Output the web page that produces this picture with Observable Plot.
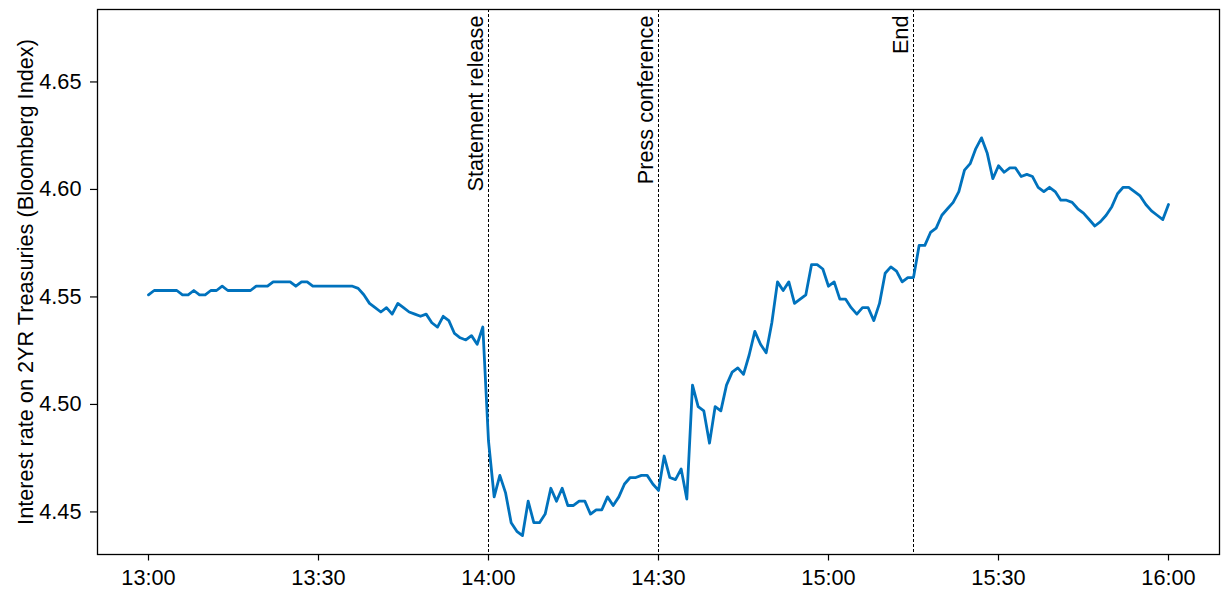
<!DOCTYPE html>
<html>
<head>
<meta charset="utf-8">
<script src="https://cdn.jsdelivr.net/npm/d3@7"></script>
<script src="https://cdn.jsdelivr.net/npm/@observablehq/plot@0.6"></script>
<style>
  body { margin: 0; background: #fff; }
</style>
</head>
<body>
<div id="chart"></div>
<script>
// Minute-by-minute 2-year Treasury yield, starting at 13:00
const startTime = "13:00";
const rates = [
  4.551, 4.553, 4.553, 4.553, 4.553, 4.553, 4.551, 4.551, 4.553, 4.551,
  4.551, 4.553, 4.553, 4.555, 4.553, 4.553, 4.553, 4.553, 4.553, 4.555,
  4.555, 4.555, 4.557, 4.557, 4.557, 4.557, 4.555, 4.557, 4.557, 4.555,
  4.555, 4.555, 4.555, 4.555, 4.555, 4.555, 4.555, 4.554, 4.551, 4.547,
  4.545, 4.543, 4.545, 4.542, 4.547, 4.545, 4.543, 4.542, 4.541, 4.542,
  4.538, 4.536, 4.541, 4.539, 4.533, 4.531, 4.530, 4.532, 4.528, 4.536,
  4.483, 4.457, 4.467, 4.459, 4.445, 4.441, 4.439, 4.455, 4.445, 4.445,
  4.449, 4.461, 4.455, 4.461, 4.453, 4.453, 4.455, 4.455, 4.449, 4.451,
  4.451, 4.457, 4.453, 4.457, 4.463, 4.466, 4.466, 4.467, 4.467, 4.463,
  4.460, 4.476, 4.466, 4.465, 4.470, 4.456, 4.509, 4.499, 4.497, 4.482,
  4.499, 4.497, 4.509, 4.515, 4.517, 4.514, 4.523, 4.534, 4.528, 4.524,
  4.538, 4.557, 4.553, 4.557, 4.547, 4.549, 4.551, 4.565, 4.565, 4.563,
  4.555, 4.557, 4.549, 4.549, 4.545, 4.542, 4.545, 4.545, 4.539, 4.547,
  4.561, 4.564, 4.562, 4.557, 4.559, 4.559, 4.574, 4.574, 4.580, 4.582,
  4.588, 4.591, 4.594, 4.599, 4.609, 4.612, 4.619, 4.624, 4.617, 4.605,
  4.611, 4.608, 4.610, 4.610, 4.606, 4.607, 4.606, 4.601, 4.599, 4.601,
  4.599, 4.595, 4.595, 4.594, 4.591, 4.589, 4.586, 4.583, 4.585, 4.588,
  4.592, 4.598, 4.601, 4.601, 4.599, 4.597, 4.593, 4.590, 4.588, 4.586,
  4.593
];

// Announcement milestones
const eventTimes = ["14:00", "14:30", "15:15"];
const eventLabels = ["Statement release", "Press conference", "End"];

// Axis ticks
const xTickLabels = ["13:00", "13:30", "14:00", "14:30", "15:00", "15:30", "16:00"];
const yTicks = [4.45, 4.50, 4.55, 4.60, 4.65];
const yLabel = "Interest rate on 2YR Treasuries (Bloomberg Index)";

const parseTime = d3.utcParse("%H:%M");
const t0 = parseTime(startTime);
const series = rates.map((v, i) => ({time: d3.utcMinute.offset(t0, i), rate: v}));
const events = eventTimes.map((t, i) => ({time: parseTime(t), label: eventLabels[i]}));

const fs = 21.7;

const chart = Plot.plot({
  width: 1225,
  height: 592,
  marginLeft: 97,
  marginRight: 6,
  marginTop: 9,
  marginBottom: 38,
  style: {
    fontFamily: "'Liberation Sans', Arial, sans-serif",
    fontSize: fs + "px",
    color: "#000",
    background: "#fff",
    overflow: "visible"
  },
  x: {type: "utc", domain: [parseTime("12:51"), parseTime("16:09")]},
  y: {domain: [4.4302, 4.6837]},
  marks: [
    Plot.ruleX(events, {x: "time", stroke: "#000", strokeWidth: 1, strokeDasharray: "3,2"}),
    Plot.text(events, {
      x: "time", text: "label", frameAnchor: "top", rotate: -90,
      textAnchor: "end", lineAnchor: "bottom", dx: -6, dy: 6, fontSize: fs
    }),
    Plot.lineY(series, {x: "time", y: "rate", stroke: "#0072bd", strokeWidth: 2.8}),
    Plot.frame({stroke: "#000", strokeWidth: 1.3}),
    Plot.axisX({
      ticks: xTickLabels.map(parseTime), tickFormat: d3.utcFormat("%H:%M"),
      tickSize: 6.5, tickPadding: 9, label: null, fontSize: fs, strokeWidth: 1.2
    }),
    Plot.axisY({
      ticks: yTicks, tickFormat: d3.format(".2f"),
      tickSize: 7, tickPadding: 9, label: null, fontSize: fs, strokeWidth: 1.2
    }),
    Plot.text([yLabel], {
      frameAnchor: "left", rotate: -90, dx: -65,
      textAnchor: "middle", lineAnchor: "bottom", fontSize: fs
    })
  ]
});

document.getElementById("chart").appendChild(chart);
</script>
</body>
</html>
